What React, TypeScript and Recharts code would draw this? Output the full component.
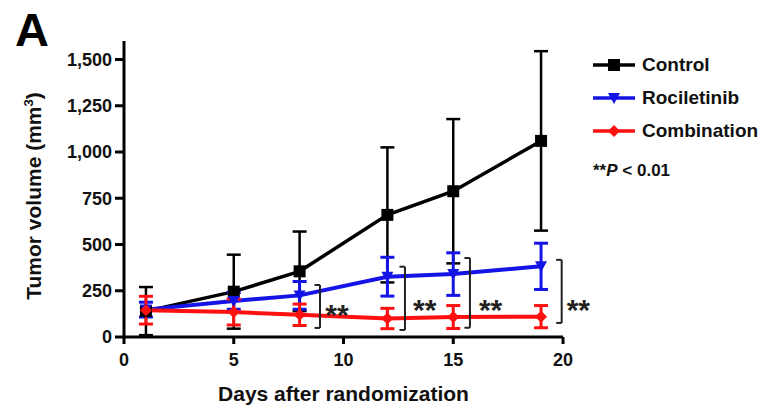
import React from 'react';
import {
  LineChart,
  Line,
  XAxis,
  YAxis,
  ErrorBar,
  ReferenceLine,
  ReferenceDot
} from 'recharts';

const days = [1, 5, 8, 12, 15, 19];
const controlMean = [140, 245, 355, 660, 788, 1060];
const controlErr = [130, 200, 215, 365, 390, 485];
const rocMean = [148, 195, 225, 326, 340, 382];
const rocErr = [40, 45, 75, 105, 115, 125];
const comboMean = [145, 135, 120, 100, 108, 110];
const comboErr = [75, 70, 58, 55, 62, 60];

const xTicks = [0, 5, 10, 15, 20];
const yTicks = [0, 250, 500, 750, 1000, 1250, 1500];

// significance brackets between Rociletinib and Combination
const bracketX = [8.93, 12.8, 15.76, 19.94];
const bracketTop = [281, 380, 427, 417];
const bracketBottom = [49, 38, 50, 76];
const starX = [9.7, 13.7, 16.7, 20.7];
const starY = [173, 200, 200, 200];

const BLACK = '#000000';
const BLUE = '#1414e6';
const RED = '#ff1010';
const FONT = '"Liberation Sans", Arial, Helvetica, sans-serif';

const data = days.map((d, i) => ({
  day: d,
  control: controlMean[i],
  controlErr: controlErr[i],
  roc: rocMean[i],
  rocErr: rocErr[i],
  combo: comboMean[i],
  comboErr: comboErr[i]
}));

const SquareDot = (p: any) => {
  const { cx, cy } = p;
  return <rect key={p.key} x={cx - 6} y={cy - 6} width={12} height={12} fill={BLACK} />;
};

const TriDot = (p: any) => {
  const { cx, cy } = p;
  return (
    <path
      key={p.key}
      d={`M${cx - 6},${cy - 5} L${cx + 6},${cy - 5} L${cx},${cy + 6} Z`}
      fill={BLUE}
    />
  );
};

const DiamondDot = (p: any) => {
  const { cx, cy } = p;
  return (
    <path
      key={p.key}
      d={`M${cx},${cy - 6} L${cx + 6},${cy} L${cx},${cy + 6} L${cx - 6},${cy} Z`}
      fill={RED}
    />
  );
};

const legendItems = [
  { name: 'Control', color: BLACK, shape: 'square' },
  { name: 'Rociletinib', color: BLUE, shape: 'tri' },
  { name: 'Combination', color: RED, shape: 'diamond' }
];

const LegendBox = () => (
  <div
    style={{
      position: 'absolute',
      left: 590,
      top: 48,
      fontFamily: FONT,
      fontWeight: 'bold',
      color: '#111'
    }}
  >
    {legendItems.map((it) => (
      <div key={it.name} style={{ display: 'flex', alignItems: 'center', height: 33 }}>
        <svg width={52} height={16}>
          <line x1={3} y1={8} x2={45} y2={8} stroke={it.color} strokeWidth={3.5} />
          {it.shape === 'square' && <rect x={18} y={2} width={12} height={12} fill={it.color} />}
          {it.shape === 'tri' && <path d="M18,3 L30,3 L24,14 Z" fill={it.color} />}
          {it.shape === 'diamond' && <path d="M24,2 L30,8 L24,14 L18,8 Z" fill={it.color} />}
        </svg>
        <span style={{ fontSize: 19 }}>{it.name}</span>
      </div>
    ))}
    <div style={{ marginTop: 14, fontSize: 17, paddingLeft: 3, fontWeight: 'bold' }}>
      **<i>P</i> &lt; 0.01
    </div>
  </div>
);

const YLabel = () => (
  <text
    transform="translate(41,196) rotate(-90)"
    textAnchor="middle"
    fontFamily={FONT}
    fontWeight="bold"
    fontSize={21}
    fill="#111"
  >
    <tspan>Tumor volume (mm</tspan>
    <tspan dy={-8} fontSize={13}>3</tspan>
    <tspan dy={8}>)</tspan>
  </text>
);

const tickStyle = { fontFamily: FONT, fontWeight: 'bold', fontSize: 18, fill: '#111' };

export default function App() {
  return (
    <div style={{ position: 'absolute', left: 0, top: 0, width: 774, height: 409, background: '#fff' }}>
      <div
        style={{
          position: 'absolute',
          left: 15,
          top: 2,
          fontFamily: FONT,
          fontWeight: 'bold',
          fontSize: 47,
          color: '#000'
        }}
      >
        A
      </div>
      <LineChart width={774} height={409} data={data} margin={{ top: 41, right: 211, bottom: 0, left: 0 }}>
        <XAxis
          dataKey="day"
          type="number"
          domain={[0, 20]}
          ticks={xTicks}
          height={72}
          tick={tickStyle}
          tickSize={7}
          tickMargin={9}
          axisLine={{ stroke: BLACK, strokeWidth: 3 }}
          tickLine={{ stroke: BLACK, strokeWidth: 3 }}
          label={{
            value: 'Days after randomization',
            position: 'insideBottom',
            offset: 8,
            style: { fontFamily: FONT, fontWeight: 'bold', fontSize: 21, fill: '#111' }
          }}
        />
        <YAxis
          type="number"
          domain={[0, 1600]}
          ticks={yTicks}
          width={124}
          tick={tickStyle}
          tickSize={9}
          tickMargin={3}
          tickFormatter={(v: number) => v.toLocaleString('en-US')}
          axisLine={{ stroke: BLACK, strokeWidth: 3 }}
          tickLine={{ stroke: BLACK, strokeWidth: 3 }}
          label={<YLabel />}
        />
        <Line
          dataKey="control"
          stroke={BLACK}
          strokeWidth={3.5}
          dot={SquareDot}
          activeDot={false}
          isAnimationActive={false}
        >
          <ErrorBar dataKey="controlErr" direction="y" width={7} stroke={BLACK} strokeWidth={2.5} />
        </Line>
        <Line
          dataKey="roc"
          stroke={BLUE}
          strokeWidth={4}
          dot={TriDot}
          activeDot={false}
          isAnimationActive={false}
        >
          <ErrorBar dataKey="rocErr" direction="y" width={7} stroke={BLUE} strokeWidth={3} />
        </Line>
        <Line
          dataKey="combo"
          stroke={RED}
          strokeWidth={4}
          dot={DiamondDot}
          activeDot={false}
          isAnimationActive={false}
        >
          <ErrorBar dataKey="comboErr" direction="y" width={7} stroke={RED} strokeWidth={3} />
        </Line>
        {bracketX.map((bx, i) => (
          <ReferenceLine
            key={`bv${i}`}
            segment={[{ x: bx, y: bracketBottom[i] }, { x: bx, y: bracketTop[i] }]}
            stroke="#222"
            strokeWidth={2}
            ifOverflow="visible"
          />
        ))}
        {bracketX.map((bx, i) => (
          <ReferenceLine
            key={`bt${i}`}
            segment={[{ x: bx - 0.25, y: bracketTop[i] }, { x: bx, y: bracketTop[i] }]}
            stroke="#222"
            strokeWidth={2}
            ifOverflow="visible"
          />
        ))}
        {bracketX.map((bx, i) => (
          <ReferenceLine
            key={`bb${i}`}
            segment={[{ x: bx - 0.25, y: bracketBottom[i] }, { x: bx, y: bracketBottom[i] }]}
            stroke="#222"
            strokeWidth={2}
            ifOverflow="visible"
          />
        ))}
        {starX.map((sx, i) => (
          <ReferenceDot
            key={`s${i}`}
            x={sx}
            y={starY[i]}
            r={0}
            fill="none"
            stroke="none"
            ifOverflow="visible"
            label={{
              value: '**',
              position: 'center',
              dy: 9,
              style: { fontFamily: FONT, fontWeight: 'bold', fontSize: 30, fill: '#222' }
            }}
          />
        ))}
      </LineChart>
      <LegendBox />
    </div>
  );
}
